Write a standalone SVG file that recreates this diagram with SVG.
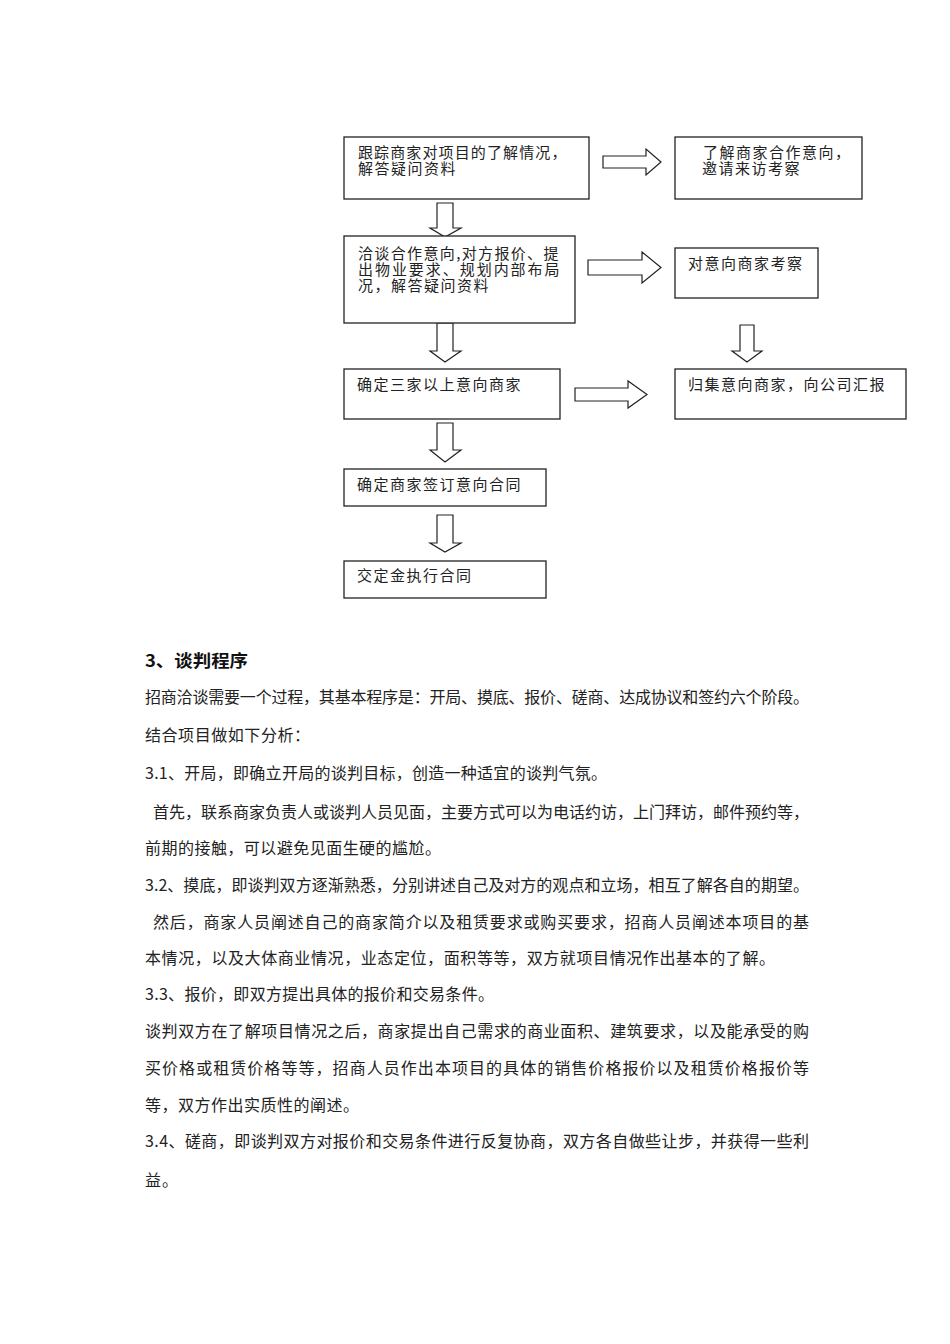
<svg xmlns="http://www.w3.org/2000/svg" width="950" height="1344" viewBox="0 0 950 1344">
<style>
.box{fill:#fff;stroke:#222;stroke-width:1.3}
.arr{fill:#fff;stroke:#222;stroke-width:1.2;stroke-linejoin:miter}
.bt{font-family:"Noto Sans CJK SC","Noto Sans",sans-serif;font-size:15px;fill:#222;letter-spacing:1.5px}
.tx{font-family:"Noto Sans CJK SC","Noto Sans",sans-serif;font-size:16px;fill:#222}
.hd{font-family:"Noto Sans CJK SC","Noto Sans",sans-serif;font-size:17px;font-weight:bold;fill:#111}
</style>
<rect width="950" height="1344" fill="#fff"/>
<g id="connectors">
<polygon class="arr" points="603,156 646,156 646,149 661,162 646,175 646,168 603,168"/>
<polygon class="arr" points="588,260 642,260 642,252 661,267.5 642,283 642,275 588,275"/>
<polygon class="arr" points="575,388 628,388 628,381 647,394.5 628,408 628,401 575,401"/>
<polygon class="arr" points="437,203 453,203 453,228 461,228 445,237 430,228 437,228"/>
<polygon class="arr" points="437,323 453,323 453,351 461,351 445,362 430,351 437,351"/>
<polygon class="arr" points="437,423 453,423 453,450 461,450 445,462 430,450 437,450"/>
<polygon class="arr" points="437,515 453,515 453,543 461,543 445,552 430,543 437,543"/>
<polygon class="arr" points="740,325 754,325 754,351 762,351 747,362 732,351 740,351"/>
</g>
<g id="n1">
<rect class="box" x="344" y="137" width="245" height="62"/>
<text class="bt" x="358" y="158" textLength="210" lengthAdjust="spacing">跟踪商家对项目的了解情况，</text>
<text class="bt" x="358" y="174">解答疑问资料</text>
</g>
<g id="n2">
<rect class="box" x="675" y="137" width="187" height="62"/>
<text class="bt" x="703" y="158">了解商家合作意向，</text>
<text class="bt" x="702" y="174">邀请来访考察</text>
</g>
<g id="n3">
<rect class="box" x="344" y="236" width="231" height="87"/>
<text class="bt" x="358" y="259" textLength="202" lengthAdjust="spacing">洽谈合作意向,对方报价、提</text>
<text class="bt" x="358" y="275" textLength="203" lengthAdjust="spacing">出物业要求、规划内部布局</text>
<text class="bt" x="358" y="291">况，解答疑问资料</text>
</g>
<g id="n4">
<rect class="box" x="675" y="248" width="143" height="50"/>
<text class="bt" x="688" y="269">对意向商家考察</text>
</g>
<g id="n5">
<rect class="box" x="344" y="369" width="216" height="50"/>
<text class="bt" x="357" y="390">确定三家以上意向商家</text>
</g>
<g id="n6">
<rect class="box" x="675" y="369" width="231" height="50"/>
<text class="bt" x="688" y="390">归集意向商家，向公司汇报</text>
</g>
<g id="n7">
<rect class="box" x="344" y="469" width="202" height="37"/>
<text class="bt" x="357" y="490">确定商家签订意向合同</text>
</g>
<g id="n8">
<rect class="box" x="344" y="561" width="202" height="37"/>
<text class="bt" x="357" y="581">交定金执行合同</text>
</g>
<g id="body">
<text class="hd" x="145" y="667" textLength="103" lengthAdjust="spacingAndGlyphs">3、谈判程序</text>
<text class="tx" x="145" y="703" textLength="664" lengthAdjust="spacing">招商洽谈需要一个过程，其基本程序是：开局、摸底、报价、磋商、达成协议和签约六个阶段。</text>
<text class="tx" x="145" y="741" textLength="165" lengthAdjust="spacing">结合项目做如下分析：</text>
<text class="tx" x="145" y="779" textLength="462" lengthAdjust="spacing">3.1、开局，即确立开局的谈判目标，创造一种适宜的谈判气氛。</text>
<text class="tx" x="153" y="818" textLength="656" lengthAdjust="spacing">首先，联系商家负责人或谈判人员见面，主要方式可以为电话约访，上门拜访，邮件预约等，</text>
<text class="tx" x="145" y="854" textLength="296" lengthAdjust="spacing">前期的接触，可以避免见面生硬的尴尬。</text>
<text class="tx" x="145" y="891" textLength="664" lengthAdjust="spacing">3.2、摸底，即谈判双方逐渐熟悉，分别讲述自己及对方的观点和立场，相互了解各自的期望。</text>
<text class="tx" x="153" y="928" textLength="656" lengthAdjust="spacing">然后，商家人员阐述自己的商家简介以及租赁要求或购买要求，招商人员阐述本项目的基</text>
<text class="tx" x="145" y="964" textLength="630" lengthAdjust="spacing">本情况，以及大体商业情况，业态定位，面积等等，双方就项目情况作出基本的了解。</text>
<text class="tx" x="145" y="1000" textLength="349" lengthAdjust="spacing">3.3、报价，即双方提出具体的报价和交易条件。</text>
<text class="tx" x="145" y="1037" textLength="664" lengthAdjust="spacing">谈判双方在了解项目情况之后，商家提出自己需求的商业面积、建筑要求，以及能承受的购</text>
<text class="tx" x="145" y="1074" textLength="664" lengthAdjust="spacing">买价格或租赁价格等等，招商人员作出本项目的具体的销售价格报价以及租赁价格报价等</text>
<text class="tx" x="145" y="1111" textLength="214" lengthAdjust="spacing">等，双方作出实质性的阐述。</text>
<text class="tx" x="145" y="1147" textLength="664" lengthAdjust="spacing">3.4、磋商，即谈判双方对报价和交易条件进行反复协商，双方各自做些让步，并获得一些利</text>
<text class="tx" x="145" y="1186" textLength="33" lengthAdjust="spacing">益。</text>
</g>
</svg>
